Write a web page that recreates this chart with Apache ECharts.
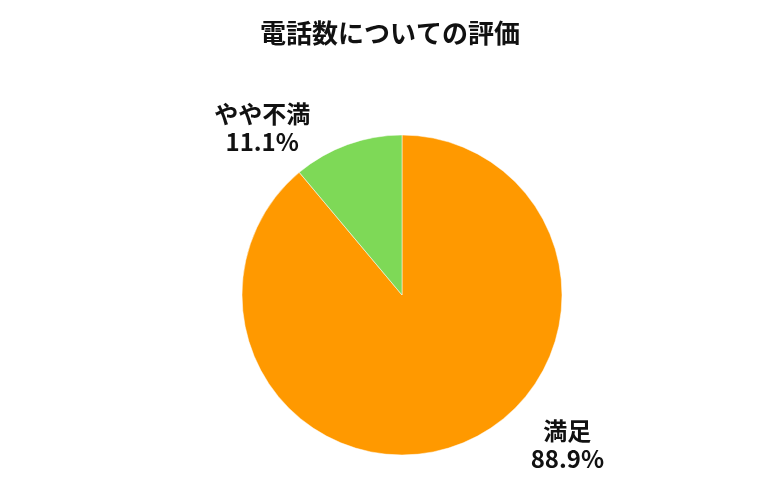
<!DOCTYPE html>
<html><head><meta charset="utf-8">
<script src="https://cdn.jsdelivr.net/npm/echarts@6/dist/echarts.min.js"></script>
<style>html,body{margin:0;padding:0;background:#fff}#c{width:780px;height:500px}</style>
</head><body><div id="c"></div>
<script>
const titleText = '電話数についての評価';
const categories = ['満足', 'やや不満'];
const values = [88.9, 11.1];
const colors = ['#FF9900', '#7ED957'];
const lineLen = [-1, 18];
const lineLen2 = [106, 74];

const chart = echarts.init(document.getElementById('c'));
chart.setOption({
  animation: false,
  title: {
    text: titleText, left: 'center', top: 15,
    textStyle: {fontFamily: 'Noto Sans CJK JP', fontSize: 26, fontWeight: 'bold', color: '#111'}
  },
  series: [{
    type: 'pie',
    center: [402, 295],
    radius: 160,
    startAngle: 90,
    clockwise: true,
    avoidLabelOverlap: false,
    itemStyle: {borderColor: '#fff', borderWidth: 0.5},
    label: {
      show: true, position: 'outside',
      formatter: p => p.name + '\n' + p.value.toFixed(1) + '%',
      fontFamily: 'Noto Sans CJK JP', fontSize: 24, fontWeight: 'bold', color: '#111', lineHeight: 28
    },
    labelLayout: () => ({align: 'center'}),
    data: categories.map((n, i) => ({
      name: n, value: values[i],
      itemStyle: {color: colors[i]},
      labelLine: {show: false, length: lineLen[i], length2: lineLen2[i]}
    }))
  }]
});
</script></body></html>
